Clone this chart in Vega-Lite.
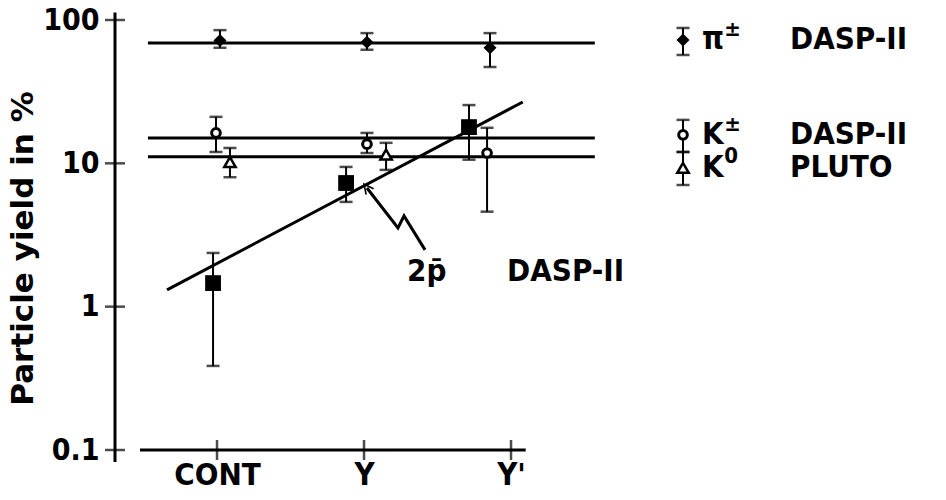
{
  "$schema": "https://vega.github.io/schema/vega-lite/v6.json",
  "width": 831,
  "height": 430,
  "autosize": "none",
  "padding": {"left": 115, "top": 20, "right": 0, "bottom": 50},
  "background": "white",
  "config": {
    "view": {"stroke": null},
    "axis": {"grid": false, "domainColor": "black", "labelColor": "black", "titleColor": "black"}
  },
  "datasets": {
    "lines": [
      {"id": "pi", "x": 0.53, "y": 69},
      {"id": "pi", "x": 3.57, "y": 69},
      {"id": "kc", "x": 0.53, "y": 15.0},
      {"id": "kc", "x": 3.57, "y": 15.0},
      {"id": "k0", "x": 0.53, "y": 11.1},
      {"id": "k0", "x": 3.57, "y": 11.1},
      {"id": "p", "x": 0.66, "y": 1.31},
      {"id": "p", "x": 3.08, "y": 26.8},
      {"id": "xaxis", "x": 0.476, "y": 0.1},
      {"id": "xaxis", "x": 3.1, "y": 0.1},
      {"id": "arrow", "x": 2.02, "y": 6.73},
      {"id": "arrow", "x": 2.231, "y": 3.54},
      {"id": "arrow", "x": 2.272, "y": 4.3},
      {"id": "arrow", "x": 2.415, "y": 2.49}
    ],
    "yaxis": [
      {"x": 0.306, "lo": 0.0825, "hi": 113}
    ],
    "pts": [
      {"s": "pi", "x": 1.02, "y": 72, "lo": 64, "hi": 85},
      {"s": "pi", "x": 2.02, "y": 70, "lo": 62, "hi": 81},
      {"s": "pi", "x": 2.857, "y": 64, "lo": 47, "hi": 81},
      {"s": "kc", "x": 0.993, "y": 16.3, "lo": 12.0, "hi": 21.1},
      {"s": "kc", "x": 2.02, "y": 13.6, "lo": 11.8, "hi": 16.3},
      {"s": "kc", "x": 2.837, "y": 11.8, "lo": 4.6, "hi": 17.7},
      {"s": "k0", "x": 1.088, "y": 10.2, "lo": 8.0, "hi": 12.8},
      {"s": "k0", "x": 2.15, "y": 11.5, "lo": 9.0, "hi": 13.9},
      {"s": "p", "x": 0.973, "y": 1.46, "lo": 0.386, "hi": 2.37},
      {"s": "p", "x": 1.878, "y": 7.29, "lo": 5.38, "hi": 9.44},
      {"s": "p", "x": 2.714, "y": 17.9, "lo": 10.6, "hi": 25.5},
      {"s": "pi", "x": 4.17, "y": 72.6, "lo": 57, "hi": 88},
      {"s": "kc", "x": 4.17, "y": 15.8, "lo": 12.0, "hi": 20.1},
      {"s": "k0", "x": 4.17, "y": 9.3, "lo": 7.06, "hi": 12.0}
    ],
    "txt": [
      {"t": "π", "x": 4.3, "y": 72.6},
      {"t": "DASP-II", "x": 4.898, "y": 72.6},
      {"t": "K", "x": 4.3, "y": 15.8},
      {"t": "DASP-II", "x": 4.898, "y": 15.8},
      {"t": "K", "x": 4.3, "y": 9.3},
      {"t": "PLUTO", "x": 4.898, "y": 9.3},
      {"t": "2p̄", "x": 2.293, "y": 1.746},
      {"t": "DASP-II", "x": 2.973, "y": 1.746}
    ],
    "sup": [
      {"t": "±", "x": 4.45, "y": 86},
      {"t": "±", "x": 4.45, "y": 18.8},
      {"t": "0", "x": 4.45, "y": 11.3}
    ],
    "yt": [{"v": 0.1}, {"v": 1}, {"v": 10}, {"v": 100}],
    "xt": [{"v": 1}, {"v": 2}, {"v": 3}],
    "head": [{"x": 2.02, "y": 6.73}]
  },
  "layer": [
    {
      "data": {"name": "lines"},
      "mark": {"type": "line", "color": "black"},
      "encoding": {
        "x": {
          "field": "x", "type": "quantitative", "title": null,
          "scale": {"type": "linear", "domain": [0.306, 5.959], "nice": false, "zero": false},
          "axis": {
            "title": null, "values": [1, 2, 3], "domain": false, "ticks": false, "tickSize": 0,
            "labelPadding": 10, "labelFont": "DejaVu Sans Condensed", "labelFontWeight": "bold",
            "labelFontSize": 31,
            "labelExpr": "datum.value == 1 ? 'CONT' : datum.value == 2 ? 'Υ' : \"Υ'\""
          }
        },
        "y": {
          "field": "y", "type": "quantitative", "title": "Particle yield in %",
          "scale": {"type": "log", "domain": [0.1, 100], "nice": false},
          "axis": {
            "title": "Particle yield in %", "values": [0.1, 1, 10, 100], "format": "~g",
            "domain": false, "ticks": false, "tickSize": 0, "labelPadding": 16,
            "labelFont": "DejaVu Sans Condensed", "labelFontWeight": "bold", "labelFontSize": 30,
            "titleFont": "DejaVu Sans", "titleFontSize": 31, "titleFontWeight": "bold",
            "titleAngle": 270, "titleX": -92, "titleY": 228, "titleAlign": "center", "titleBaseline": "middle"
          }
        },
        "detail": {"field": "id"},
        "strokeWidth": {"field": "id", "type": "nominal", "legend": null,
          "scale": {"domain": ["pi", "kc", "k0", "p", "xaxis", "arrow"], "range": [3, 3, 3, 3.5, 3, 1.6]}}
      }
    },
    {
      "data": {"name": "yaxis"},
      "mark": {"type": "rule", "color": "black", "strokeWidth": 3},
      "encoding": {
        "x": {"field": "x", "type": "quantitative"},
        "y": {"field": "lo", "type": "quantitative"},
        "y2": {"field": "hi"}
      }
    },
    {
      "data": {"name": "pts"},
      "mark": {"type": "rule", "color": "black", "strokeWidth": 2},
      "encoding": {
        "x": {"field": "x", "type": "quantitative"},
        "y": {"field": "lo", "type": "quantitative"},
        "y2": {"field": "hi"}
      }
    },
    {
      "data": {"name": "pts"},
      "mark": {"type": "tick", "orient": "horizontal", "color": "black", "size": 13, "thickness": 2.5},
      "encoding": {
        "x": {"field": "x", "type": "quantitative"},
        "y": {"field": "lo", "type": "quantitative"}
      }
    },
    {
      "data": {"name": "pts"},
      "mark": {"type": "tick", "orient": "horizontal", "color": "black", "size": 13, "thickness": 2.5},
      "encoding": {
        "x": {"field": "x", "type": "quantitative"},
        "y": {"field": "hi", "type": "quantitative"}
      }
    },
    {
      "data": {"name": "pts"},
      "transform": [{"filter": "datum.s == 'pi'"}],
      "mark": {"type": "point", "shape": "diamond", "filled": true, "color": "black", "opacity": 1, "size": 170},
      "encoding": {
        "x": {"field": "x", "type": "quantitative"},
        "y": {"field": "y", "type": "quantitative"}
      }
    },
    {
      "data": {"name": "pts"},
      "transform": [{"filter": "datum.s == 'kc'"}],
      "mark": {"type": "point", "shape": "circle", "filled": false, "fill": "white", "fillOpacity": 1, "stroke": "black", "strokeWidth": 3, "opacity": 1, "size": 75},
      "encoding": {
        "x": {"field": "x", "type": "quantitative"},
        "y": {"field": "y", "type": "quantitative"}
      }
    },
    {
      "data": {"name": "pts"},
      "transform": [{"filter": "datum.s == 'k0'"}],
      "mark": {"type": "point", "shape": "triangle-up", "filled": false, "fill": "white", "fillOpacity": 1, "stroke": "black", "strokeWidth": 2.5, "opacity": 1, "size": 130},
      "encoding": {
        "x": {"field": "x", "type": "quantitative"},
        "y": {"field": "y", "type": "quantitative"}
      }
    },
    {
      "data": {"name": "pts"},
      "transform": [{"filter": "datum.s == 'p'"}],
      "mark": {"type": "point", "shape": "square", "filled": true, "color": "black", "opacity": 1, "size": 250},
      "encoding": {
        "x": {"field": "x", "type": "quantitative"},
        "y": {"field": "y", "type": "quantitative"}
      }
    },
    {
      "data": {"name": "head"},
      "mark": {"type": "point", "shape": "M-1,1L0,-1L1,1", "filled": false, "stroke": "black", "strokeWidth": 1.6, "opacity": 1, "size": 90, "angle": 322},
      "encoding": {
        "x": {"field": "x", "type": "quantitative"},
        "y": {"field": "y", "type": "quantitative"}
      }
    },
    {
      "data": {"name": "yt"},
      "mark": {"type": "tick", "orient": "horizontal", "color": "black", "size": 20, "thickness": 2.5},
      "encoding": {
        "x": {"datum": 0.306, "type": "quantitative"},
        "y": {"field": "v", "type": "quantitative"}
      }
    },
    {
      "data": {"name": "xt"},
      "mark": {"type": "tick", "orient": "vertical", "color": "black", "size": 20, "thickness": 2.5},
      "encoding": {
        "x": {"field": "v", "type": "quantitative"},
        "y": {"datum": 0.1, "type": "quantitative"}
      }
    },
    {
      "data": {"name": "txt"},
      "mark": {"type": "text", "align": "left", "baseline": "middle", "font": "DejaVu Sans Condensed", "fontWeight": "bold", "fontSize": 31, "color": "black"},
      "encoding": {
        "x": {"field": "x", "type": "quantitative"},
        "y": {"field": "y", "type": "quantitative"},
        "text": {"field": "t"}
      }
    },
    {
      "data": {"name": "sup"},
      "mark": {"type": "text", "align": "left", "baseline": "middle", "font": "DejaVu Sans Condensed", "fontWeight": "bold", "fontSize": 22, "color": "black"},
      "encoding": {
        "x": {"field": "x", "type": "quantitative"},
        "y": {"field": "y", "type": "quantitative"},
        "text": {"field": "t"}
      }
    }
  ]
}
